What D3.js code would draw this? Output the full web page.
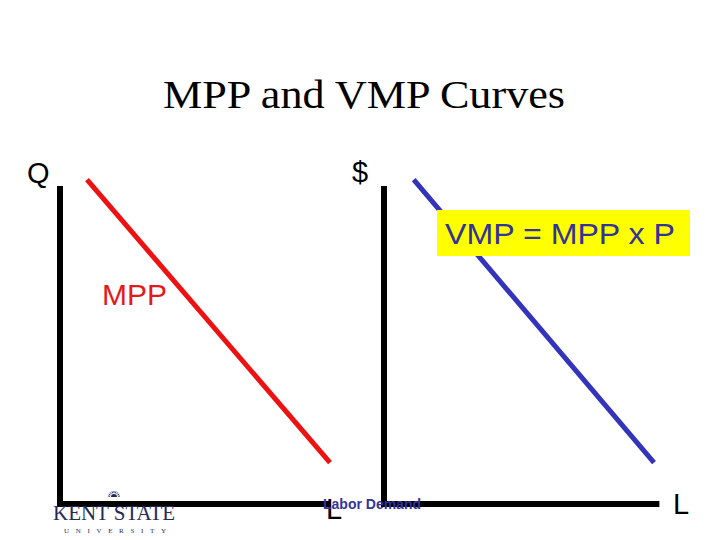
<!DOCTYPE html>
<meta charset="utf-8">
<head>
<title>MPP and VMP Curves</title>
<script src="https://d3js.org/d3.v7.min.js"></script>
<style>
  body { margin: 0; background: #fff; }
  .title { font-family: "Liberation Serif", "Times New Roman", serif; font-size: 41px; fill: #000; }
  .lab { font-family: "Liberation Sans", Arial, sans-serif; fill: #000; }
  .axis-line { stroke: #000; stroke-width: 6px; fill: none; }
</style>
</head>
<body>
<svg id="chart" width="720" height="540"></svg>
<script>
// chart values
var panelNames = ["MPP", "VMP"];
var yAxisLabels = ["Q", "$"];
var xAxisLabels = ["L", "L"];
var mppPoints = [[1.0, 10.2], [10, 1.3]];   // [labor, quantity]
var vmpPoints = [[1.1, 10.2], [10, 1.3]];   // [labor, $]
var axisMax = [[10, 10], [10.2, 10]];       // [x max, y max] per panel
var curveLabels = ["MPP", "VMP = MPP x P"];

var svg = d3.select("#chart");

svg.append("text").attr("class", "title")
    .attr("x", 163).attr("y", 108)
    .attr("textLength", 402).attr("lengthAdjust", "spacingAndGlyphs")
    .text("MPP and VMP Curves");

var xL = d3.scaleLinear().domain([0, 10]).range([60, 330]);
var xR = d3.scaleLinear().domain([0, 10]).range([384, 654]);
var y = d3.scaleLinear().domain([0, 10]).range([504, 186]);
var xs = [xL, xR];

var line = d3.line()
    .x(function(d) { return this.x(d[0]); })
    .y(function(d) { return y(d[1]); });

function axisPath(x, ext) {
    return "M" + x(0) + "," + y(ext[1]) + "V" + y(0) + "M" + (x(0) - 3) + "," + y(0) + "H" + x(ext[0]);
}

// curves
svg.append("path")
    .attr("d", d3.line().x(function(d) { return xL(d[0]); }).y(function(d) { return y(d[1]); })(mppPoints))
    .attr("stroke", "#ee1111").attr("stroke-width", 5).attr("fill", "none");

svg.append("path")
    .attr("d", d3.line().x(function(d) { return xR(d[0]); }).y(function(d) { return y(d[1]); })(vmpPoints))
    .attr("stroke", "#3333bb").attr("stroke-width", 5).attr("fill", "none");

// axes
panelNames.forEach(function(p, i) {
    svg.append("path").attr("class", "axis-line").attr("d", axisPath(xs[i], axisMax[i]));
});

// axis labels
svg.append("text").attr("class", "lab").attr("x", 27).attr("y", 183).attr("font-size", 29).text(yAxisLabels[0]);
svg.append("text").attr("class", "lab").attr("x", 352).attr("y", 182).attr("font-size", 29).text(yAxisLabels[1]);
svg.append("text").attr("class", "lab").attr("x", 326).attr("y", 519).attr("font-size", 29).text(xAxisLabels[0]);
svg.append("text").attr("class", "lab").attr("x", 673).attr("y", 514).attr("font-size", 29).text(xAxisLabels[1]);

// curve labels
svg.append("text").attr("class", "lab").attr("x", 102).attr("y", 305)
    .attr("font-size", 30).style("fill", "#e31a1c").text(curveLabels[0]);

svg.append("rect").attr("x", 437).attr("y", 210).attr("width", 253).attr("height", 46).attr("fill", "#ffff00");
svg.append("text").attr("class", "lab").attr("x", 445).attr("y", 244)
    .attr("font-size", 29).attr("textLength", 230).attr("lengthAdjust", "spacingAndGlyphs")
    .style("fill", "#333399").text(curveLabels[1]);

svg.append("text").attr("class", "lab").attr("x", 323).attr("y", 509)
    .attr("font-size", 14).attr("font-weight", "bold").style("fill", "#333399").text("Labor Demand");

// Kent State logo
var logo = svg.append("g").attr("fill", "#1f2a5c");
var sun = logo.append("g").attr("transform", "translate(114,497)");
sun.append("path").attr("d", d3.arc()({innerRadius: 0, outerRadius: 3, startAngle: -Math.PI / 2, endAngle: Math.PI / 2}));
d3.range(-80, 81, 20).forEach(function(a) {
    var r = a * Math.PI / 180;
    sun.append("line").attr("x1", 4 * Math.sin(r)).attr("y1", -4 * Math.cos(r))
        .attr("x2", 6 * Math.sin(r)).attr("y2", -6 * Math.cos(r))
        .attr("stroke", "#1f2a5c").attr("stroke-width", 1);
});
logo.append("text").attr("x", 53).attr("y", 520)
    .attr("font-family", "Liberation Serif, serif").attr("font-size", 22)
    .attr("textLength", 122).attr("lengthAdjust", "spacingAndGlyphs").text("KENT STATE");
logo.append("text").attr("x", 64).attr("y", 533)
    .attr("font-family", "Liberation Serif, serif").attr("font-size", 7)
    .attr("textLength", 102).attr("lengthAdjust", "spacing").text("UNIVERSITY");
</script>
</body>
